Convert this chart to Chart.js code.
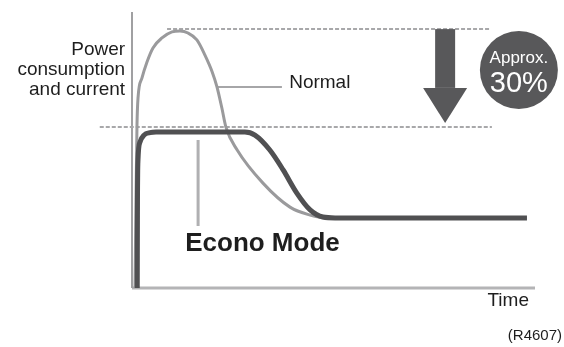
<!DOCTYPE html>
<html>
<head>
<meta charset="utf-8">
<script src="https://cdn.jsdelivr.net/npm/chart.js@4"></script>
<style>
  html, body { margin: 0; padding: 0; background: #fff; }
  #wrap { width: 564px; height: 347px; }
</style>
</head>
<body>
<div id="wrap"><canvas id="econo"></canvas></div>
<script>
// time axis 0..100, power axis 0..100
var normalTime  = [0.74, 0.99, 1.24, 1.49, 2.48, 3.72, 5.21, 7.44, 9.93, 11.9, 13.9, 16.1, 18.1, 19.9, 21.1, 22.3, 23.3, 26.1, 32.5, 39.2, 44.2, 47.9, 98.0];
var normalPower = [0, 31.9, 59.1, 68.8, 76.1, 81.9, 87.0, 90.6, 92.8, 93.1, 92.4, 89.9, 84.4, 78.3, 72.8, 65.2, 58.3, 50, 38.0, 29.3, 26.4, 25.4, 25.4];

var econoTime  = [1.3, 1.36, 1.49, 1.99, 2.98, 4.47, 5.96, 28.0, 30.5, 34.2, 37.5, 40.9, 44.2, 47.4, 50.4, 98.0];
var econoPower = [0, 31.9, 46.4, 52.9, 55.4, 56.3, 56.5, 56.5, 55.4, 50, 42.8, 34.4, 28.3, 25.7, 25.4, 25.4];

var peakLevel = 93.8;       // normal peak
var limitLevel = 58.3;      // econo mode limit
var peakGuideX = [8.7, 88.6];
var limitGuideX = [-8, 89.3];

var normalLeaderX = [21.1, 37.2];
var normalLeaderY = 72.8;
var econoLeaderX = 16.4;
var econoLeaderY = [53.6, 22.5];

var yLabel = ['Power', 'consumption', 'and current'];
var reduction = ['Approx.', '30%'];

function pts(xs, ys) {
    return xs.map(function (x, i) { return { x: x, y: ys[i] }; });
}
function hline(xs, y) {
    return [{ x: xs[0], y: y }, { x: xs[1], y: y }];
}

var font = '"Liberation Sans", Arial, sans-serif';
var dark = '#58585a';

// arrow, badge and the text labels
var notes = {
    id: 'notes',
    afterDatasetsDraw: function (chart) {
        var ctx = chart.ctx;
        var xs = chart.scales.x, ys = chart.scales.y;
        var px = function (v) { return xs.getPixelForValue(v); };
        var py = function (v) { return ys.getPixelForValue(v); };
        ctx.save();

        // down arrow
        var ax = px(77.7);
        ctx.fillStyle = dark;
        ctx.fillRect(ax - 10, py(peakLevel), 20, py(72.5) - py(peakLevel));
        ctx.beginPath();
        ctx.moveTo(ax - 22, py(72.5));
        ctx.lineTo(ax + 22, py(72.5));
        ctx.lineTo(ax, py(59.8));
        ctx.closePath();
        ctx.fill();

        // badge
        var cx = px(96.0), cy = py(79.0);
        ctx.beginPath();
        ctx.arc(cx, cy, 39, 0, Math.PI * 2);
        ctx.fill();
        ctx.fillStyle = '#fff';
        ctx.textAlign = 'center';
        ctx.textBaseline = 'alphabetic';
        ctx.font = '17px ' + font;
        ctx.fillText(reduction[0], cx, cy - 7);
        ctx.font = '29px ' + font;
        ctx.fillText(reduction[1], cx, cy + 22);

        ctx.fillStyle = '#1e1e1e';
        ctx.font = '19px ' + font;
        ctx.textAlign = 'right';
        ctx.fillText(yLabel[0], px(-1.7), py(84.4));
        ctx.fillText(yLabel[1], px(-1.7), py(77.2));
        ctx.fillText(yLabel[2], px(-1.7), py(69.9));
        ctx.fillText('Time', px(98.5), py(-6.5));

        ctx.textAlign = 'left';
        ctx.fillText('Normal', px(39.0), py(72.5));

        ctx.font = 'bold 26px ' + font;
        ctx.fillText('Econo Mode', px(13.2), py(13.4));

        ctx.textAlign = 'right';
        ctx.font = '15px ' + font;
        ctx.fillText('(R4607)', px(106.7), py(-18.8));
        ctx.restore();
    }
};

new Chart(document.getElementById('econo'), {
    type: 'line',
    data: {
        datasets: [
            {
                label: 'Econo Mode',
                data: pts(econoTime, econoPower),
                borderColor: '#505052',
                borderWidth: 5,
                cubicInterpolationMode: 'monotone'
            },
            {
                label: 'Normal',
                data: pts(normalTime, normalPower),
                borderColor: '#9a9a9c',
                borderWidth: 3,
                cubicInterpolationMode: 'monotone'
            },
            {
                label: 'normal leader',
                data: hline(normalLeaderX, normalLeaderY),
                borderColor: '#a6a6a8',
                borderWidth: 2
            },
            {
                label: 'econo leader',
                data: [{ x: econoLeaderX, y: econoLeaderY[0] }, { x: econoLeaderX, y: econoLeaderY[1] }],
                borderColor: '#b0b0b2',
                borderWidth: 3
            },
            {
                label: 'peak',
                data: hline(peakGuideX, peakLevel),
                borderColor: '#a8a8aa',
                borderWidth: 2,
                borderDash: [4, 2]
            },
            {
                label: 'limit',
                data: hline(limitGuideX, limitLevel),
                borderColor: '#a8a8aa',
                borderWidth: 2,
                borderDash: [4, 2]
            },
            {
                label: 'y axis',
                data: [{ x: 0, y: 0 }, { x: 0, y: 100 }],
                borderColor: '#a0a0a2',
                borderWidth: 2
            },
            {
                label: 'x axis',
                data: [{ x: 0, y: 0 }, { x: 100, y: 0 }],
                borderColor: '#b4b4b6',
                borderWidth: 3
            }
        ]
    },
    options: {
        responsive: true,
        maintainAspectRatio: false,
        animation: false,
        events: [],
        layout: { padding: { left: 132, right: 29, top: 12, bottom: 59 } },
        elements: { point: { radius: 0 } },
        datasets: { line: { clip: false, fill: false } },
        plugins: { legend: { display: false }, tooltip: { enabled: false } },
        scales: {
            x: { type: 'linear', min: 0, max: 100, display: false },
            y: { type: 'linear', min: 0, max: 100, display: false }
        }
    },
    plugins: [notes]
});
</script>
</body>
</html>
